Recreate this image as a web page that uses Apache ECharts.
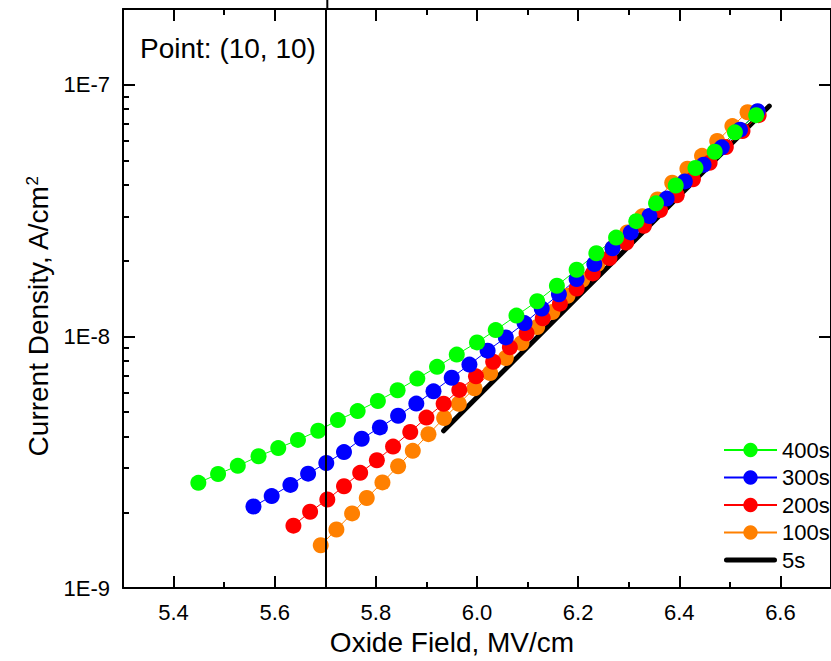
<!DOCTYPE html>
<html>
<head>
<meta charset="utf-8">
<script src="https://cdn.jsdelivr.net/npm/echarts@6/dist/echarts.min.js"></script>
<style>
html,body{margin:0;padding:0;background:#fff;}
#chart{width:831px;height:661px;}
</style>
</head>
<body>
<div id="chart"></div>
<script>
// ---- data ----
const field400 = [5.449, 5.488, 5.527, 5.568, 5.607, 5.646, 5.686, 5.725, 5.764, 5.804, 5.843, 5.882, 5.921, 5.960, 6.000, 6.037, 6.078, 6.119, 6.158, 6.197, 6.236, 6.275, 6.315, 6.354, 6.393, 6.432, 6.470, 6.510, 6.552];
const curr400 = [2.62e-9, 2.84e-9, 3.06e-9, 3.34e-9, 3.60e-9, 3.88e-9, 4.22e-9, 4.65e-9, 5.05e-9, 5.54e-9, 6.11e-9, 6.80e-9, 7.57e-9, 8.47e-9, 9.47e-9, 1.06e-8, 1.21e-8, 1.38e-8, 1.59e-8, 1.84e-8, 2.14e-8, 2.47e-8, 2.87e-8, 3.38e-8, 3.98e-8, 4.67e-8, 5.42e-8, 6.47e-8, 7.57e-8];

const field300 = [5.558, 5.594, 5.631, 5.666, 5.702, 5.737, 5.772, 5.808, 5.844, 5.880, 5.914, 5.950, 5.985, 6.021, 6.057, 6.094, 6.128, 6.162, 6.197, 6.232, 6.268, 6.304, 6.341, 6.375, 6.411, 6.448, 6.484, 6.520, 6.555];
const curr300 = [2.11e-9, 2.32e-9, 2.57e-9, 2.85e-9, 3.14e-9, 3.47e-9, 3.92e-9, 4.35e-9, 4.84e-9, 5.41e-9, 6.05e-9, 6.85e-9, 7.73e-9, 8.78e-9, 9.91e-9, 1.13e-8, 1.29e-8, 1.47e-8, 1.69e-8, 1.94e-8, 2.24e-8, 2.59e-8, 3.01e-8, 3.53e-8, 4.13e-8, 4.81e-8, 5.64e-8, 6.63e-8, 7.85e-8];

const field200 = [5.637, 5.670, 5.704, 5.737, 5.769, 5.802, 5.834, 5.868, 5.900, 5.934, 5.965, 5.998, 6.032, 6.065, 6.098, 6.130, 6.164, 6.197, 6.229, 6.262, 6.295, 6.330, 6.362, 6.395, 6.427, 6.460, 6.492, 6.525, 6.557];
const curr200 = [1.77e-9, 2.01e-9, 2.25e-9, 2.54e-9, 2.87e-9, 3.22e-9, 3.65e-9, 4.17e-9, 4.76e-9, 5.40e-9, 6.13e-9, 6.94e-9, 7.93e-9, 9.05e-9, 1.03e-8, 1.18e-8, 1.35e-8, 1.55e-8, 1.78e-8, 2.05e-8, 2.36e-8, 2.75e-8, 3.18e-8, 3.64e-8, 4.21e-8, 4.90e-8, 5.66e-8, 6.55e-8, 7.57e-8];

const field100 = [5.691, 5.722, 5.753, 5.782, 5.813, 5.844, 5.873, 5.904, 5.935, 5.964, 5.995, 6.026, 6.057, 6.088, 6.119, 6.149, 6.179, 6.208, 6.238, 6.268, 6.297, 6.327, 6.357, 6.386, 6.416, 6.445, 6.475, 6.505, 6.535];
const curr100 = [1.48e-9, 1.71e-9, 1.98e-9, 2.28e-9, 2.63e-9, 3.05e-9, 3.51e-9, 4.09e-9, 4.74e-9, 5.40e-9, 6.22e-9, 7.15e-9, 8.21e-9, 9.41e-9, 1.09e-8, 1.25e-8, 1.45e-8, 1.68e-8, 1.94e-8, 2.24e-8, 2.59e-8, 3.00e-8, 3.50e-8, 4.08e-8, 4.64e-8, 5.22e-8, 5.98e-8, 6.85e-8, 7.78e-8];

const field5 = [5.934, 6.0, 6.1, 6.2, 6.3, 6.4, 6.5, 6.578];
const curr5 = [4.22e-9, 5.73e-9, 9.08e-9, 1.44e-8, 2.28e-8, 3.62e-8, 5.75e-8, 8.23e-8];

const cursorX = 5.704;
const cursorLabel = 'Point: (10, 10)';

const xMajorTicks = [5.4, 5.6, 5.8, 6.0, 6.2, 6.4, 6.6];
const xMinorTicks = [5.5, 5.7, 5.9, 6.1, 6.3, 6.5];
const yMajorTicks = [1e-9, 1e-8, 1e-7];
const yMinorTicks = [2e-9, 3e-9, 4e-9, 5e-9, 6e-9, 7e-9, 8e-9, 9e-9, 2e-8, 3e-8, 4e-8, 5e-8, 6e-8, 7e-8, 8e-8, 9e-8];

const legendOrder = ['400s', '300s', '200s', '100s', '5s'];

// ---- chart ----
const FONT = '"Liberation Sans", Arial, sans-serif';
const pairs = (xs, ys) => xs.map((x, i) => [x, ys[i]]);
const chart = echarts.init(document.getElementById('chart'), null, {renderer: 'svg'});

const X_MIN = 5.3, X_MAX = 6.7, Y_MIN = 1e-9, Y_MAX = 2e-7;
const axisLine = {show: true, lineStyle: {color: '#000', width: 2}};

function xAxisDef(pos, ticks, len, showLine, labels) {
  return {
    type: 'value', min: X_MIN, max: X_MAX, position: pos, gridIndex: 0,
    axisLine: showLine ? axisLine : {show: false},
    axisTick: {show: true, inside: true, length: len, customValues: ticks, lineStyle: {color: '#000', width: 2}},
    axisLabel: labels ? {show: true, customValues: ticks, fontSize: 22, color: '#000', fontFamily: FONT, margin: 13,
      formatter: v => Number(v).toFixed(1)} : {show: false},
    splitLine: {show: false}
  };
}
function yAxisDef(pos, ticks, len, showLine, labels) {
  return {
    type: 'log', logBase: 10, min: Y_MIN, max: Y_MAX, position: pos, gridIndex: 0,
    axisLine: showLine ? axisLine : {show: false},
    axisTick: {show: true, inside: true, length: len, customValues: ticks, lineStyle: {color: '#000', width: 2}},
    axisLabel: labels ? {show: true, customValues: ticks, fontSize: 22, color: '#000', fontFamily: FONT, margin: 13,
      formatter: v => '1E' + Math.round(Math.log10(v))} : {show: false},
    splitLine: {show: false}
  };
}

const xAxes = [
  Object.assign(xAxisDef('bottom', xMajorTicks, 12, true, true), {
    name: 'Oxide Field, MV/cm', nameLocation: 'middle', nameGap: 36,
    nameTextStyle: {fontSize: 28, color: '#000', fontFamily: FONT, padding: [0, 50, 0, 0]}
  }),
  xAxisDef('bottom', xMinorTicks, 6, false, false),
  xAxisDef('top', xMajorTicks, 12, true, false),
  xAxisDef('top', xMinorTicks, 6, false, false)
];
const yAxes = [
  Object.assign(yAxisDef('left', yMajorTicks, 12, true, true), {
    name: 'Current Density, A/cm{sup|2}', nameLocation: 'middle', nameGap: 70,
    nameTextStyle: {fontSize: 28, color: '#000', fontFamily: FONT, padding: [0, 36, 0, 0],
      rich: {sup: {fontSize: 17, color: '#000', fontFamily: FONT, verticalAlign: 'top', padding: [0, 0, 12, 0]}}}
  }),
  yAxisDef('left', yMinorTicks, 6, false, false),
  yAxisDef('right', yMajorTicks, 12, true, false)
];

function dotSeries(name, color, xs, ys) {
  return {
    name, type: 'line', xAxisIndex: 0, yAxisIndex: 0,
    data: pairs(xs, ys),
    symbol: 'circle', symbolSize: 16, showSymbol: true,
    itemStyle: {color: color, borderWidth: 0},
    lineStyle: {color: color, width: 1},
    emphasis: {disabled: true}
  };
}

// thick rounded bar used as the legend key of the plain "5s" line
const thickLineIcon = 'path://M0,0L0,0M2.5,6.5L50.5,6.5A2.5,2.5 0 0 1 50.5,11.5L2.5,11.5A2.5,2.5 0 0 1 2.5,6.5ZM53,18L53,18';

chart.setOption({
  animation: false,
  backgroundColor: '#fff',
  grid: {left: 123, top: 9, right: -9, bottom: 68, containLabel: false},
  xAxis: xAxes,
  yAxis: yAxes,
  legend: {
    orient: 'vertical', left: 723, top: 439, padding: 0,
    itemWidth: 53, itemHeight: 18, itemGap: 5.5,
    data: legendOrder.map(n => n === '5s' ? {name: n, icon: thickLineIcon} : {name: n}),
    textStyle: {fontSize: 22, color: '#000', fontFamily: FONT, lineHeight: 22},
    selectedMode: false
  },
  series: [
    {
      name: '5s', type: 'line', xAxisIndex: 0, yAxisIndex: 0,
      data: pairs(field5, curr5), symbol: 'none', showSymbol: false,
      itemStyle: {color: '#000'},
      lineStyle: {color: '#000', width: 5, cap: 'round'},
      emphasis: {disabled: true},
      markLine: {
        silent: true, symbol: 'none', animation: false,
        label: {show: false},
        lineStyle: {color: '#000', width: 2, type: 'solid'},
        data: [{xAxis: cursorX}]
      }
    },
    dotSeries('100s', '#FF8000', field100, curr100),
    dotSeries('200s', '#FF0000', field200, curr200),
    dotSeries('300s', '#0000FF', field300, curr300),
    dotSeries('400s', '#00FF00', field400, curr400)
  ]
});

// cursor line continues above the frame; label of the data cursor
const cx = chart.convertToPixel({xAxisIndex: 0}, cursorX);
const topY = chart.convertToPixel({yAxisIndex: 0}, Y_MAX);
chart.setOption({
  graphic: [
    {type: 'line', shape: {x1: cx, y1: 0, x2: cx, y2: topY}, style: {stroke: '#000', lineWidth: 2}, silent: true},
    {type: 'text', left: 140, top: 34, style: {text: cursorLabel, fontSize: 28, fontFamily: FONT, fill: '#000'}, silent: true}
  ]
});
</script>
</body>
</html>
